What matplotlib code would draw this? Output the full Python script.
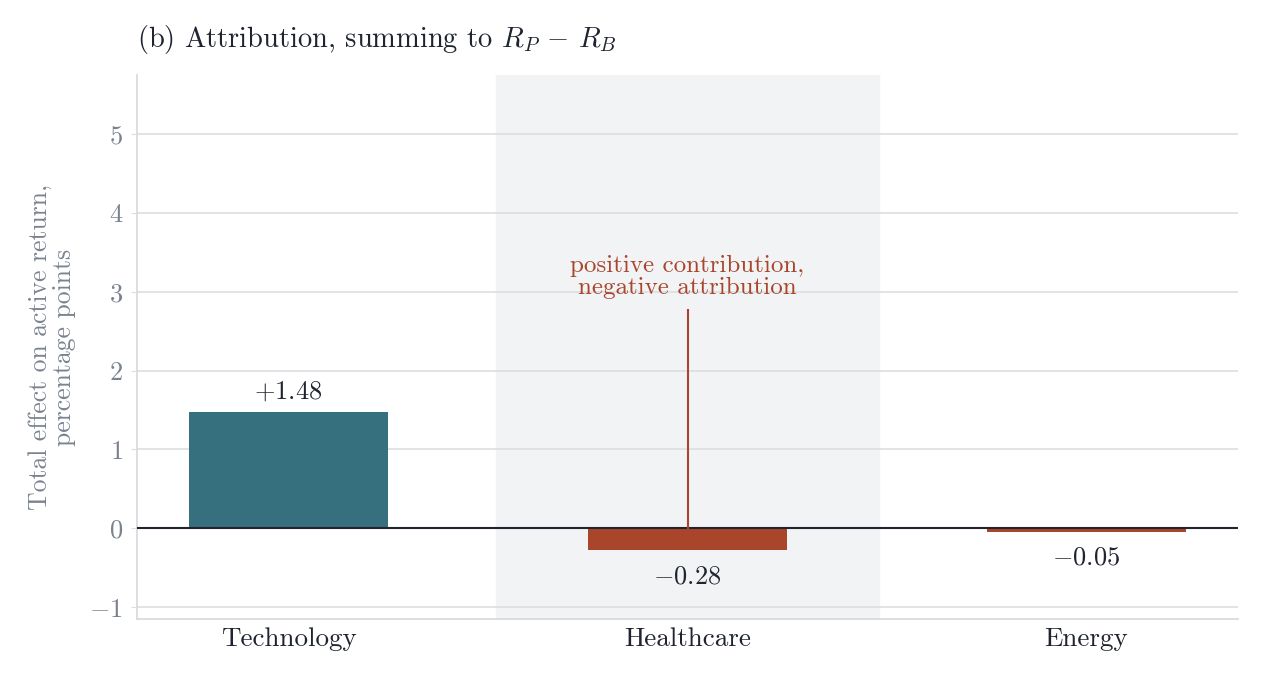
import numpy as np
import matplotlib
matplotlib.use("Agg")
import matplotlib.pyplot as plt

# data
sectors = ["Technology", "Healthcare", "Energy"]
total_effect = [1.48, -0.28, -0.05]
stem_height = 2.77
note_text = "positive contribution,\nnegative attribution"

teal = "#36707e"
rust = "#a8452b"
ink = "#1f2430"
grey = "#7a8290"

plt.rcParams["font.family"] = ["cmr10", "DejaVu Serif"]
plt.rcParams["mathtext.fontset"] = "cm"
plt.rcParams["axes.formatter.use_mathtext"] = True

fig = plt.figure(figsize=(12.64, 6.79), dpi=100)
ax = fig.add_axes([137 / 1264, 1 - 619 / 679, (1238 - 137) / 1264, (619 - 75) / 679])

x = np.arange(len(sectors))
ax.axvspan(0.52, 1.48, color="#f2f3f5", zorder=0)
ax.grid(axis="y", color="#dcdfe2", lw=1.2, zorder=1)
ax.set_axisbelow(True)

colors = [teal if v > 0 else rust for v in total_effect]
ax.bar(x, total_effect, width=0.5, color=colors, zorder=2)
ax.axhline(0, color=ink, lw=1.5, zorder=3)

for xi, v in zip(x, total_effect):
    s = "$%+.2f$" % v if v > 0 else "$-%.2f$" % abs(v)
    if v > 0:
        ax.annotate(s, (xi, v), xytext=(0, 6), textcoords="offset points",
                    ha="center", va="bottom", fontsize=19, color=ink)
    else:
        ax.annotate(s, (xi, v), xytext=(0, -10), textcoords="offset points",
                    ha="center", va="top", fontsize=19, color=ink)

# annotation stem on healthcare
ax.plot([1, 1], [0, stem_height], color=rust, lw=1.5, zorder=3)
ax.text(1, stem_height + 0.14, note_text, ha="center", va="bottom",
        fontsize=18, color=rust, linespacing=1.0)

ax.set_xlim(-0.38, 2.38)
ax.set_ylim(-1.15, 5.75)
ax.set_yticks([-1, 0, 1, 2, 3, 4, 5])
ax.set_xticks(x)
ax.set_xticklabels(sectors)
ax.tick_params(axis="x", length=0, labelsize=19.5, labelcolor=ink, pad=6)
ax.tick_params(axis="y", length=4, color="#dcdfe2", labelsize=19, labelcolor=grey, pad=6)

for side in ["top", "right"]:
    ax.spines[side].set_visible(False)
for side in ["left", "bottom"]:
    ax.spines[side].set_color("#d5d9dd")
    ax.spines[side].set_linewidth(1.2)

ax.set_ylabel("Total effect on active return,\npercentage points", fontsize=18.5,
              color=grey, labelpad=10, linespacing=1.0)
ax.set_title(r"(b) Attribution, summing to $R_P\,-\,R_B$", loc="left",
             fontsize=20.5, color=ink, pad=20)

fig.savefig("out.png", dpi=100)
